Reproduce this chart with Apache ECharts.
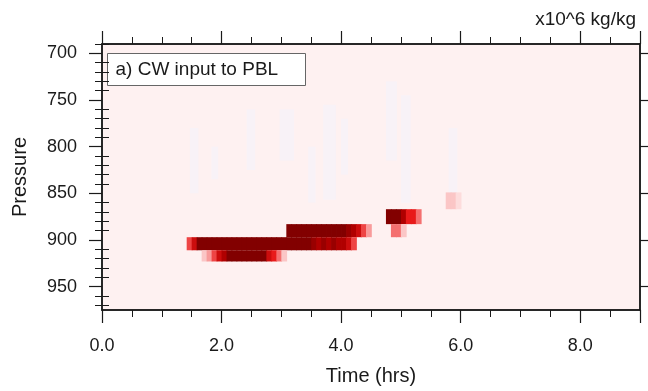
<!DOCTYPE html>
<html><head><meta charset="utf-8">
<script src="https://cdn.jsdelivr.net/npm/echarts@6/dist/echarts.min.js"></script>
<style>html,body{margin:0;padding:0;background:#fff}#c{width:648px;height:391px}</style>
</head><body><div id="c"></div>
<script>
// ---- data (x10^6 kg/kg) ----
const stepHours = 1 / 12;                       // 5-minute output interval
const levelEdges = [849, 867, 883, 897, 911, 923]; // model layer edges (hPa)
// each row: first time-step index and values per 5-min step
const row849Start = 69; const row849 = [2, 2, 1];
const row867Start = 57; const row867 = [10, 10, 10, 8, 6, 6, 4];
const row883Start = 37; const row883 = [10, 10, 10, 10, 10, 10, 10, 10, 10, 10, 10, 10, 9, 8, 7, 5, 3, 0, 0, 0, 0, 4, 4, 2];
const row897Start = 17; const row897 = [5, 7, 10, 10, 10, 10, 10, 10, 10, 10, 10, 10, 10, 10, 10, 10, 10, 10, 10, 10, 10, 10, 10, 10, 10, 9, 8, 9, 8, 9, 8, 8, 7, 5];
const row911Start = 20; const row911 = [2, 3, 5, 7, 8, 10, 10, 10, 10, 10, 10, 10, 10, 7, 6, 4, 2];
// faint slightly-negative streaks (hours, hPa)
const streakStart  = [1.47, 1.83, 2.42, 2.97, 3.45, 3.70, 4.00, 4.75, 5.00, 5.80];
const streakEnd    = [1.60, 1.93, 2.55, 3.20, 3.56, 3.90, 4.10, 4.92, 5.15, 5.93];
const streakTop    = [780, 800, 760, 760, 800, 755, 770, 730, 745, 780];
const streakBottom = [850, 835, 825, 815, 860, 857, 830, 815, 860, 850];
const xTicks = [0, 2, 4, 6, 8];
const yTicks = [700, 750, 800, 850, 900, 950];

function rowCells(rowIdx, start, vals) {
  const out = [];
  vals.forEach((v, k) => {
    if (v === 0) return;
    out.push([(start + k) * stepHours, (start + k + 1) * stepHours, levelEdges[rowIdx], levelEdges[rowIdx + 1], v]);
  });
  return out;
}
const cells = [].concat(
  rowCells(0, row849Start, row849),
  rowCells(1, row867Start, row867),
  rowCells(2, row883Start, row883),
  rowCells(3, row897Start, row897),
  rowCells(4, row911Start, row911)
);
const streaks = streakStart.map((s, i) => [s, streakEnd[i], streakTop[i], streakBottom[i], -1]);

function renderCell(params, api) {
  const a = api.coord([api.value(0), api.value(2)]);
  const b = api.coord([api.value(1), api.value(3)]);
  const c = api.visual('color');
  return {
    type: 'rect',
    shape: { x: a[0], y: Math.min(a[1], b[1]), width: b[0] - a[0] + 0.8, height: Math.abs(b[1] - a[1]) },
    style: { fill: c, stroke: null }
  };
}

const minorY = [];
for (let p = 690; p <= 975; p += 10) if (p % 50 !== 0) minorY.push(p);

const FONT = 'Liberation Sans, Arial, sans-serif';
const INK = '#1a1a1a';
const chart = echarts.init(document.getElementById('c'), null, { renderer: 'canvas' });
const baseX = {
  type: 'value', min: 0, max: 9, interval: 2,
  axisLine: { show: true, onZero: false, lineStyle: { color: INK, width: 1.5 } },
  axisTick: { show: true, length: 13, lineStyle: { color: INK, width: 1.2 } },
  minorTick: { show: true, splitNumber: 4, length: 7, lineStyle: { color: INK, width: 1 } },
  splitLine: { show: false }, minorSplitLine: { show: false }
};
const baseY = {
  type: 'value', min: 690, max: 975, inverse: true,
  axisLine: { show: true, onZero: false, lineStyle: { color: INK, width: 1.5 } },
  splitLine: { show: false }
};
chart.setOption({
  animation: false,
  backgroundColor: '#ffffff',
  title: [{
    text: 'x10^6 kg/kg', right: 7, top: 5,
    textStyle: { fontFamily: FONT, fontSize: 19, fontWeight: 'normal', color: INK }
  }],
  graphic: [{
    type: 'group', left: 107, top: 53, z: 100,
    children: [
      { type: 'rect', shape: { x: 0, y: 0, width: 198, height: 32 }, style: { fill: '#ffffff', stroke: '#666666', lineWidth: 1 } },
      { type: 'text', x: 8, y: 16, style: { text: 'a) CW input to PBL', fontFamily: FONT, fontSize: 19, fill: INK, verticalAlign: 'middle' } }
    ]
  }],
  grid: {
    left: 102, right: 8, top: 44, bottom: 79, show: true,
    backgroundColor: '#fef1f1', borderColor: INK, borderWidth: 1.5
  },
  xAxis: [
    Object.assign({}, baseX, {
      position: 'bottom',
      axisLabel: { show: true, customValues: xTicks, formatter: v => Number(v).toFixed(1), margin: 27, fontFamily: FONT, fontSize: 18, color: INK },
      name: 'Time (hrs)', nameLocation: 'middle', nameGap: 56,
      nameTextStyle: { fontFamily: FONT, fontSize: 20, color: INK }
    }),
    Object.assign({}, baseX, { position: 'top', axisLabel: { show: false } })
  ],
  yAxis: [
    Object.assign({}, baseY, {
      position: 'left',
      axisTick: { show: true, customValues: yTicks, length: 13, lineStyle: { color: INK, width: 1.2 } },
      axisLabel: { show: true, customValues: yTicks, margin: 25, fontFamily: FONT, fontSize: 18, color: INK },
      name: 'Pressure', nameLocation: 'middle', nameGap: 72, nameRotate: 90,
      nameTextStyle: { fontFamily: FONT, fontSize: 20, color: INK }
    }),
    Object.assign({}, baseY, {
      position: 'left', axisLine: { show: false },
      axisTick: { show: true, customValues: minorY, length: 7, lineStyle: { color: INK, width: 1 } },
      axisLabel: { show: false }
    }),
    Object.assign({}, baseY, {
      position: 'right',
      axisTick: { show: true, customValues: yTicks, length: 13, lineStyle: { color: INK, width: 1.2 } },
      axisLabel: { show: false }
    }),
    Object.assign({}, baseY, {
      position: 'right', axisLine: { show: false },
      axisTick: { show: true, customValues: minorY, length: 7, lineStyle: { color: INK, width: 1 } },
      axisLabel: { show: false }
    })
  ],
  visualMap: {
    type: 'continuous', show: false, seriesIndex: 1, dimension: 4,
    min: 0, max: 10,
    inRange: { color: ['#fef1f1', '#fbc6c6', '#f47070', '#e81a1a', '#b00000', '#820000'] }
  },
  series: [
    {
      type: 'custom', name: 'streaks', xAxisIndex: 0, yAxisIndex: 0,
      renderItem: renderCell, data: streaks,
      itemStyle: { color: '#f8f2f7' },
      encode: { x: [0, 1], y: [2, 3] }, z: 1
    },
    {
      type: 'custom', name: 'CW', xAxisIndex: 0, yAxisIndex: 0,
      renderItem: renderCell, data: cells,
      encode: { x: [0, 1], y: [2, 3] }, z: 2
    }
  ]
});
</script></body></html>
